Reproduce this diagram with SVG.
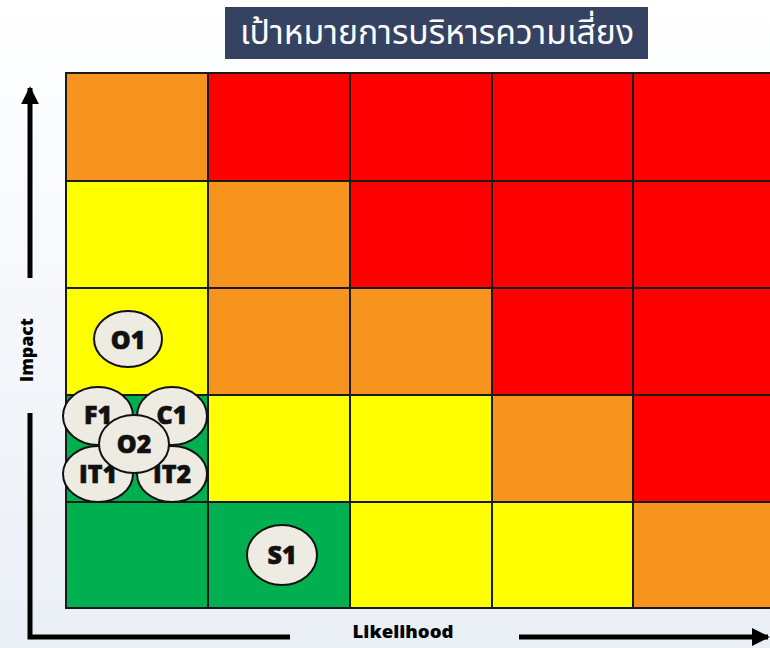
<svg xmlns="http://www.w3.org/2000/svg" width="770" height="648" viewBox="0 0 770 648">
<defs>
<linearGradient id="bg" x1="0" y1="0" x2="0" y2="1">
<stop offset="0" stop-color="#ffffff"/>
<stop offset="1" stop-color="#eaeff6"/>
</linearGradient>
<marker id="ah" viewBox="0 0 10 10" refX="9" refY="5" markerWidth="3.6" markerHeight="3.6" orient="auto" markerUnits="strokeWidth">
<path d="M0,0 L10,5 L0,10 Z" fill="#000"/>
</marker>
<style>
.c{stroke:#1a1a1a;stroke-width:2}
.o{fill:#F7941D}.r{fill:#FF0000}.y{fill:#FFFF00}.g{fill:#00B050}
.e{fill:#EEEBE2;stroke:#111;stroke-width:2}
.t{font-family:"Open Sans","Liberation Sans",Arial,sans-serif;font-weight:800;font-size:25px;fill:#111;stroke:#111;stroke-width:0.6;text-anchor:middle;dominant-baseline:central}
.ax{font-family:"Open Sans","Liberation Sans",Arial,sans-serif;font-weight:800;font-size:17px;fill:#000;text-anchor:middle}
.ln{stroke:#000;stroke-width:5;fill:none}
</style>
</defs>
<rect width="770" height="648" fill="url(#bg)"/>
<g id="title">
<rect x="225" y="7" width="423" height="52" fill="#364262"/>
<text x="437" y="44" font-family="'Noto Sans Thai','Noto Sans','Liberation Sans',sans-serif" font-size="33" fill="#fff" text-anchor="middle" textLength="394" lengthAdjust="spacingAndGlyphs">เป้าหมายการบริหารความเสี่ยง</text>
</g>
<g id="grid">
<rect class="c o" x="66" y="73" width="142" height="108"/>
<rect class="c r" x="208" y="73" width="142" height="108"/>
<rect class="c r" x="350" y="73" width="142" height="108"/>
<rect class="c r" x="492" y="73" width="141" height="108"/>
<rect class="c r" x="633" y="73" width="142" height="108"/>
<rect class="c y" x="66" y="181" width="142" height="107"/>
<rect class="c o" x="208" y="181" width="142" height="107"/>
<rect class="c r" x="350" y="181" width="142" height="107"/>
<rect class="c r" x="492" y="181" width="141" height="107"/>
<rect class="c r" x="633" y="181" width="142" height="107"/>
<rect class="c y" x="66" y="288" width="142" height="107"/>
<rect class="c o" x="208" y="288" width="142" height="107"/>
<rect class="c o" x="350" y="288" width="142" height="107"/>
<rect class="c r" x="492" y="288" width="141" height="107"/>
<rect class="c r" x="633" y="288" width="142" height="107"/>
<rect class="c g" x="66" y="395" width="142" height="107"/>
<rect class="c y" x="208" y="395" width="142" height="107"/>
<rect class="c y" x="350" y="395" width="142" height="107"/>
<rect class="c o" x="492" y="395" width="141" height="107"/>
<rect class="c r" x="633" y="395" width="142" height="107"/>
<rect class="c g" x="66" y="502" width="142" height="106"/>
<rect class="c g" x="208" y="502" width="142" height="106"/>
<rect class="c y" x="350" y="502" width="142" height="106"/>
<rect class="c y" x="492" y="502" width="141" height="106"/>
<rect class="c o" x="633" y="502" width="142" height="106"/>
</g>
<g id="connectors">
<line class="ln" x1="30" y1="278" x2="30" y2="88" marker-end="url(#ah)"/>
<polyline class="ln" points="30,413 30,637 290,637"/>
<line class="ln" x1="519" y1="637" x2="768" y2="637" marker-end="url(#ah)"/>
</g>
<text class="ax" x="403" y="638" textLength="101" lengthAdjust="spacingAndGlyphs">Likelihood</text>
<text class="ax" transform="translate(33,350) rotate(-90)" textLength="64" lengthAdjust="spacingAndGlyphs">Impact</text>
<g id="O1"><ellipse class="e" cx="128" cy="339" rx="34" ry="28"/><text class="t" x="128" y="339">O1</text></g>
<g id="F1"><ellipse class="e" cx="98" cy="416" rx="35" ry="29"/><text class="t" x="98" y="414">F1</text></g>
<g id="C1"><ellipse class="e" cx="172" cy="416" rx="35" ry="29"/><text class="t" x="172" y="414">C1</text></g>
<g id="IT1"><ellipse class="e" cx="98" cy="474" rx="35" ry="28"/><text class="t" x="98" y="473">IT1</text></g>
<g id="IT2"><ellipse class="e" cx="172" cy="474" rx="35" ry="28"/><text class="t" x="172" y="473">IT2</text></g>
<g id="O2"><ellipse class="e" cx="134" cy="444" rx="35" ry="29"/><text class="t" x="134" y="443">O2</text></g>
<g id="S1"><ellipse class="e" cx="282" cy="555" rx="35" ry="30"/><text class="t" x="282" y="554">S1</text></g>
</svg>
